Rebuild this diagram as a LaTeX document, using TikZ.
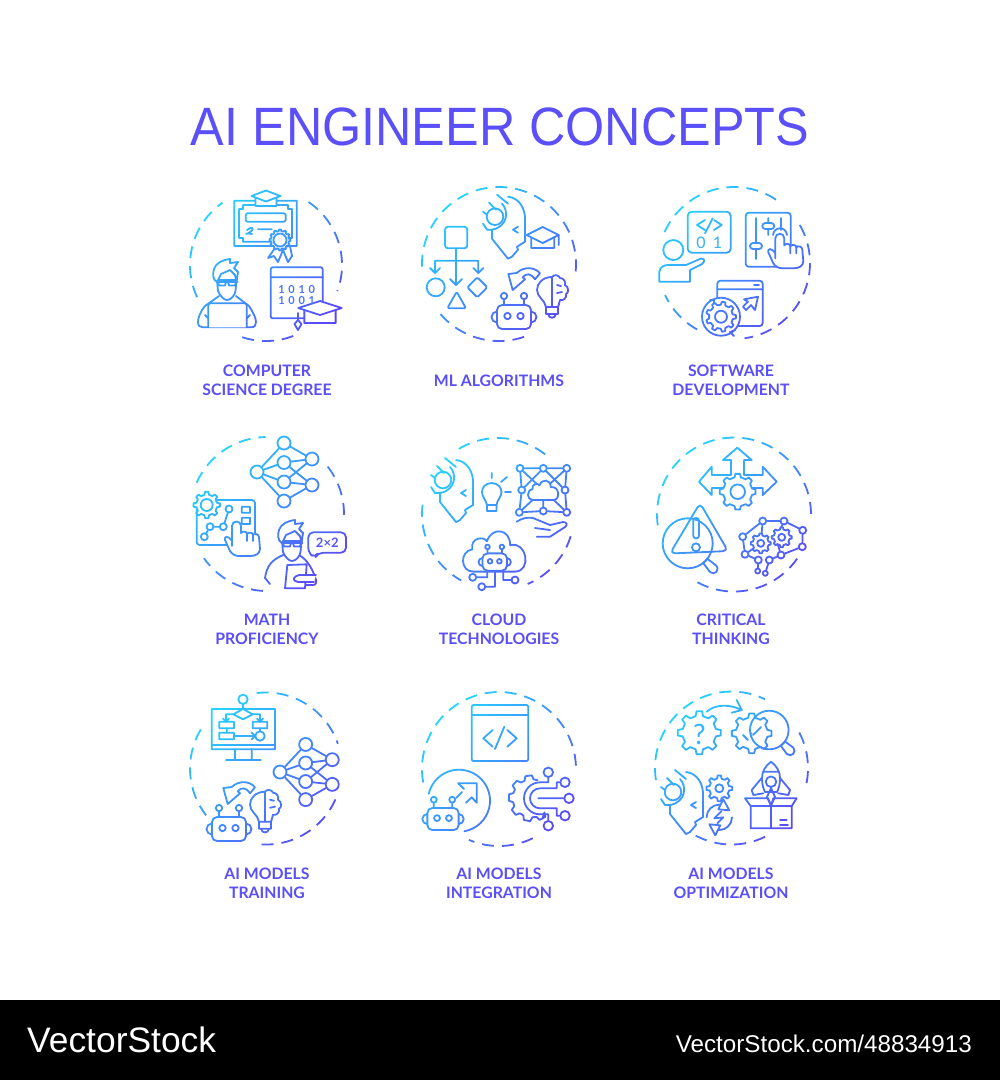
\documentclass[tikz,border=0pt]{standalone}
\usepackage{fontspec}
\setmainfont{Lato}
\newfontfamily\titlefont{Liberation Sans}
\usetikzlibrary{calc,fadings}
\definecolor{gradtop}{HTML}{22DCFF}
\definecolor{gradmid}{HTML}{3F9DFF}
\definecolor{gradend}{HTML}{5C46F8}
\definecolor{labelviolet}{HTML}{5A4FF8}
\tikzset{
	cut/.style={fill=black},
	nnode/.style={circle,draw,fill=black,minimum size=13pt,inner sep=0pt},
	cnode/.style={circle,draw,fill=black,minimum size=7pt,inner sep=0pt},
	celltitle/.style={text=labelviolet,font=\bfseries\fontsize{15.8}{19.3}\selectfont,align=center},
	icontext/.style={font=\bfseries\fontsize{11}{11}\selectfont},
}
\def\ringarc(#1)(#2:#3:#4){\draw[line cap=butt,dash pattern=on 12pt off 8pt] ($(#1)+({#4*cos(#2)},{#4*sin(#2)})$) arc (#2:#3:#4);}
\def\gearicon(#1)(#2:#3:#4:#5){
	\begin{scope}[shift={(#1)}]
		\pgfmathsetmacro\gstep{360/#4}
		\draw[cut] ({-.28*\gstep}:#3) \foreach \k in {1,...,#4} {-- ({(\k-1.16)*\gstep}:#2) -- ({(\k-.84)*\gstep}:#2) -- ({(\k-.72)*\gstep}:#3) -- ({(\k-.28)*\gstep}:#3)} -- cycle;
		\draw[cut] (0,0) circle (#5);
	\end{scope}}
\def\roboticon(#1)(#2){
	\begin{scope}[shift={(#1)},scale=#2]
		\draw[cut] (-17,0) circle (5.5);
		\draw[cut] (17,0) circle (5.5);
		\draw[cut,rounded corners=5pt] (-17,-12) rectangle (17,12);
		\draw (-10,-12) -- (-10,-18);
		\draw (10,-12) -- (10,-18);
		\draw[cut] (-10,-21) circle (3.2);
		\draw[cut] (10,-21) circle (3.2);
		\draw (-6.5,-1) circle (3.2);
		\draw (6.5,-1) circle (3.2);
	\end{scope}}
\def\headicon(#1){
	\begin{scope}[shift={(#1)}]
		\draw (0,0) circle (8.3);
		\draw (7,-13) .. controls (14,-6) and (13,10) .. (-3,13) -- (-8,13) -- (-12,7);
		\draw (13,-20) .. controls (24,-19) and (31,-8) .. (30,5) -- (30,25) -- (22,30) -- (23,33) -- (17,40) -- (13,42) -- (-3,22) -- (-3,13);
		\draw (2,-22) -- (13,-13);
		\draw (-6,-14) -- (1,-7);
		\draw (-12,-5) -- (-8,-2);
		\draw (23,10) -- (18,13) -- (23,16);
	\end{scope}}
\def\bulbicon(#1){
	\begin{scope}[shift={(#1)}]
		\draw (0,-15) .. controls (-9,-15) and (-15,-9) .. (-15,-2) .. controls (-15,5) and (-7,8) .. (-6,15) -- (6,15);
		\draw (0,-15) .. controls (2,-18) and (7,-17) .. (8,-14) .. controls (12,-14) and (14,-10) .. (13,-7) .. controls (17,-5) and (17,1) .. (14,2) .. controls (15,6) and (11,9) .. (8,8) .. controls (8,11) and (6,13) .. (6,15);
		\draw (0,-15) -- (0,15);
		\draw (-6,15) -- (-6,22) -- (6,22) -- (6,15);
		\draw (-4,22) .. controls (-3,27) and (3,27) .. (4,22);
		\draw (5,-7) -- (9,-6);
		\draw (5,1) -- (10,0);
	\end{scope}}
\def\turnarrow(#1){
	\begin{scope}[shift={(#1)}]
		\draw (-14.7,-4) -- (-6.3,-5) .. controls (1,-12) and (12,-11) .. (17,-4.7) -- (12,1.3) .. controls (8,-5) and (3,-5) .. (-.3,-.7) -- (2,1.3) -- (-10.3,12) -- cycle;
	\end{scope}}
\def\capicon(#1)(#2:#3:#4){
	\begin{scope}[shift={(#1)}]
		\draw[cut] ({-.72*#2},0) -- ({-.72*#2},#4) -- ({.72*#2},#4) -- ({.72*#2},0);
		\draw[cut] (-#2,0) -- (0,-#3) -- (#2,0) -- (0,#3) -- cycle;
	\end{scope}}
\def\faceicon(#1){
	\begin{scope}[shift={(#1)}]
		\draw[cut] (-10,0) -- (-9,11) .. controls (-7,16) and (-3,20) .. (0,20) .. controls (4,20) and (8,15) .. (8.5,11) -- (9.5,0) -- cycle;
		\draw[cut] (-10,2) .. controls (-15,0) and (-14,-8) .. (-13,-11) .. controls (-11,-17) and (-5,-20) .. (3,-21) -- (3,-17) -- (11,-18) -- (7,-12) -- (11,-8) -- (9.5,2) -- (8,-5) -- (3,-10) -- (-6,-6) -- cycle;
		\draw (-10.5,2) -- (10.5,2);
		\draw (-9,2) -- (-8,5.5) -- (-2,5.5) -- (-1,2);
		\draw (1,2) -- (2,5.5) -- (8,5.5) -- (9,2);
	\end{scope}}
\def\handicon(#1){
	\begin{scope}[shift={(#1)}]
		\draw[cut] (-4,25) -- (-4,5) .. controls (-4,-1) and (5,-1) .. (5,5) -- (5,12) .. controls (6,10) and (11,10) .. (11,13) .. controls (12,11) and (17,11) .. (17,14) .. controls (18,12) and (23,13) .. (23,16) -- (24,28) .. controls (24,33) and (19,35) .. (14,35) -- (3,35) .. controls (-1,35) and (-4,33) .. (-6,30) -- (-11,19) .. controls (-12,15) and (-8,14) .. (-4,20) -- cycle;
		\draw (11,13) -- (11,20);
		\draw (17,14) -- (17,20);
	\end{scope}}
\def\lensicon(#1)(#2:#3){
	\begin{scope}[shift={(#1)},rotate=-45]
		\draw[cut] (#2,-3) -- ({#2+#3},-4.5) arc (-90:90:4.5) -- (#2,3) -- cycle;
		\draw (0,0) circle (#2);
	\end{scope}}
\def\cloudicon(#1)(#2){
	\begin{scope}[shift={(#1)}]
		\draw[cut,scale=#2] (-.7,.6) .. controls (-1.1,.6) and (-1.15,-.05) .. (-.72,-.12) .. controls (-.8,-.5) and (-.35,-.55) .. (-.25,-.38) .. controls (-.1,-.85) and (.5,-.8) .. (.5,-.25) .. controls (1.05,-.4) and (1.2,.6) .. (.65,.6) -- cycle;
	\end{scope}}
\def\neuralnet(#1)(#2){
	\begin{scope}[shift={(#1)},scale=#2]
		\node[nnode] (input) at (0,0) {};
		\node[nnode] (hiddenA) at (27,-29) {};
		\node[nnode] (hiddenB) at (27,-9.5) {};
		\node[nnode] (hiddenC) at (27,10) {};
		\node[nnode] (hiddenD) at (27,29) {};
		\node[nnode] (outputA) at (55,-13) {};
		\node[nnode] (outputB) at (55,13) {};
		\foreach \m in {A,B,C,D} \draw (input) -- (hidden\m);
		\draw (hiddenA) -- (outputA);
		\draw (hiddenB) -- (outputA);
		\draw (hiddenB) -- (outputB);
		\draw (hiddenC) -- (outputA);
		\draw (hiddenC) -- (outputB);
		\draw (hiddenD) -- (outputB);
	\end{scope}}

\begin{tikzfadingfrompicture}[name=allicons,x=1pt,y=-1pt,color=white,line width=1.8pt,line join=round,line cap=round]
	\path (0,0) rectangle (1000,1000);
	%%%%% COMPUTER SCIENCE DEGREE %%%%%
	\ringarc(266,265)(-56:20:76);
	\ringarc(266,265)(69:110:76);
	\ringarc(266,265)(155:235:76);
	\draw (234.3,200.7) rectangle (296.7,246);
	\draw (239,209) -- (243,209) -- (243,205) -- (288,205) -- (288,209) -- (292,209) -- (292,238) -- (288,238) -- (288,241.7) -- (243,241.7) -- (243,238) -- (239,238) -- cycle;
	\draw[rounded corners=2pt] (245.7,213.3) rectangle (285.7,221.7);
	\draw (247,230) .. controls (251,226) and (256,228) .. (250,232) .. controls (245,236) and (244,232) .. (252,234);
	\draw (258,229.3) -- (271.7,229.3);
	\capicon(266,196)(14.5:5.5:10)
	\draw[cut] (275,248) -- (268,258) -- (274,256) -- (278,262) -- (283,250) -- (288,262) -- (292,256) -- (290,246) -- cycle;
	\gearicon(280,240)(10.5:9:12:6.5)
	\draw[rounded corners=2pt] (270.7,267.3) rectangle (322.7,318.3);
	\draw (270.7,277.3) -- (322.7,277.3);
	\draw (298,313) -- (298,320);
	\draw[cut] (298,320) -- (294.5,324) -- (298,330) -- (301.5,324) -- cycle;
	\capicon(320,308)(21.7:7:15)
	\draw (219,296) -- (205,306) .. controls (200,312) and (198,318) .. (198,322) .. controls (198,326) and (200,327.3) .. (203,327.3) -- (251,327.3) .. controls (255,327.3) and (256,325) .. (256,322) .. controls (256,318) and (253,312) .. (249,306) -- (236,296);
	\draw (205,315) -- (208.3,318.3);
	\draw (250,315) -- (246.7,318.3);
	\draw[cut,rounded corners=2pt] (208.3,327.3) -- (208.3,303.3) -- (246.7,303.3) -- (246.7,327.3);
	\faceicon(227,280)
	%%%%% ML ALGORITHMS %%%%%
	\ringarc(499,264)(-182:10:77);
	\ringarc(499,264)(71:145:77);
	\draw[rounded corners=3pt] (445,226.7) rectangle (467.3,248.3);
	\draw (456,248.3) -- (456,285);
	\draw (450,279) -- (456,285) -- (462,279);
	\draw (435,273) -- (435,260.7) -- (478.3,260.7) -- (478.3,273);
	\draw (430,268) -- (435,273) -- (440,268);
	\draw (473.3,268) -- (478.3,273) -- (483.3,268);
	\draw (435.7,287.3) circle (9);
	\draw[rounded corners=1.5pt] (456.7,291.7) -- (466,308.3) -- (447.3,308.3) -- cycle;
	\draw[rounded corners=1.5pt] (477.3,277.3) -- (487.3,287.3) -- (477.3,297.3) -- (467.3,287.3) -- cycle;
	\headicon(495,216.7)
	\capicon(542.7,235)(16:8:13)
	\draw (558.7,235) -- (558.7,245);
	\turnarrow(523,278)
	\roboticon(514,317)(1)
	\bulbicon(552,292)
	%%%%% SOFTWARE DEVELOPMENT %%%%%
	\ringarc(734,263)(-156:-52:76);
	\ringarc(734,263)(-30:82:76);
	\ringarc(734,263)(119:155:76);
	\draw[rounded corners=4pt] (687.7,211.7) rectangle (730.7,252.7);
	\draw (705,220) -- (697,225) -- (705,230);
	\draw (714,220) -- (721.7,225) -- (714,230);
	\draw (712.7,218.3) -- (705,233.3);
	\draw[cut] (659.3,281.7) -- (659.3,272) .. controls (660,267) and (664,265) .. (668,265) -- (686,265) -- (701,258.5) .. controls (705,258) and (705,262) .. (702,264) -- (690,270) -- (690,281.7) -- cycle;
	\draw[cut] (673.3,250) circle (10);
	\draw[rounded corners=3pt] (745.7,212.7) rectangle (790.7,266.7);
	\draw (756,218) -- (756,259);
	\draw (768.3,218) -- (768.3,235);
	\draw (781,218) -- (781,230);
	\draw[cut,rounded corners=3pt] (750,243) rectangle (762,249);
	\draw[cut,rounded corners=3pt] (762.3,223) rectangle (774.3,229);
	\draw (773,235) .. controls (774,226) and (786,226) .. (787,235);
	\handicon(779.3,233.3)
	\draw[rounded corners=3pt] (717.3,326) -- (717.3,280.7) -- (762.7,280.7) -- (762.7,326) -- cycle;
	\draw (717.3,289.3) -- (762.7,289.3);
	\draw (754,285) -- (759,285);
	\draw (758,296.7) -- (755,310) -- (751,305) -- (746,310) -- (743,306.7) -- (748,301.7) -- (744,299.3) -- cycle;
	\draw[cut] (721,316.7) circle (19);
	\draw (710,300) -- (714,300) -- (714,304);
	\draw (734,336) -- (730,332) -- (735,330);
	\gearicon(721,316.7)(15:12:9:6)
	%%%%% MATH PROFICIENCY %%%%%
	\neuralnet(257,472)(1)
	\ringarc(267,514)(-156:-91:77);
	\ringarc(267,514)(-38:5:77);
	\ringarc(267,514)(93:145:77);
	\draw[rounded corners=3pt] (196.7,500) -- (255,500) -- (255,545) -- (196.7,545) -- cycle;
	\gearicon(206.7,505)(13.3:10.5:8:6)
	\draw (241.7,506.7) rectangle (250,512.7);
	\draw (241.7,517.7) rectangle (250,524);
	\node[cnode] (plotA) at (204.3,536.7) {};
	\node[cnode] (plotB) at (210,526.7) {};
	\node[cnode] (plotC) at (223.3,526.7) {};
	\node[cnode] (plotD) at (229,509) {};
	\draw (plotA) -- (plotB);
	\draw (plotB) -- (plotC);
	\draw (plotC) -- (plotD);
	\handicon(236,521)
	\draw (265,578) .. controls (267,565) and (272,560) .. (283,555) -- (299,555) .. controls (308,560) and (313,570) .. (316,580) .. controls (317,584) and (315,585) .. (312,585) -- (295,585);
	\draw (265,578) -- (270,584);
	\draw[cut] (287.3,565) -- (306.7,564.3) -- (305,588.3) -- (285,588.3) -- cycle;
	\draw[cut,rounded corners=2pt] (316,575) -- (297,575) -- (293,579) -- (296,582) -- (314,582);
	\faceicon(292,541)
	\draw[cut,rounded corners=5pt] (308.3,532.3) -- (346,532.3) -- (346,552.7) -- (318,552.7) -- (315,558) -- (308.3,552.7) -- cycle;
	%%%%% CLOUD TECHNOLOGIES %%%%%
	\ringarc(498,514)(-121:-49:76);
	\ringarc(498,514)(-173:-241:76);
	\ringarc(498,514)(17:67:76);
	\headicon(443,480)
	\draw (491.7,483) .. controls (485,483) and (482,488) .. (482,492) .. controls (482,497) and (486,500) .. (487,505) -- (496.5,505) .. controls (497,500) and (501.5,497) .. (501.5,492) .. controls (501.5,488) and (498,483) .. (491.7,483);
	\draw (487,505) -- (487,511) -- (496.5,511) -- (496.5,505);
	\draw (491.7,473) -- (491.7,478);
	\draw (501,482) -- (507,477);
	\draw (505,492) -- (511,492);
	\node[cnode] (meshA) at (520,468.3) {};
	\node[cnode] (meshB) at (543.3,468.3) {};
	\node[cnode] (meshC) at (566.7,468.3) {};
	\node[cnode] (meshD) at (565,490) {};
	\node[cnode] (meshE) at (566.7,512.3) {};
	\node[cnode] (meshF) at (543.3,511) {};
	\node[cnode] (meshG) at (519.3,512.3) {};
	\node[cnode] (meshH) at (521.7,490) {};
	\draw (meshA) -- (meshB);
	\draw (meshB) -- (meshC);
	\draw (meshC) -- (meshD);
	\draw (meshD) -- (meshE);
	\draw (meshE) -- (meshF);
	\draw (meshF) -- (meshG);
	\draw (meshG) -- (meshH);
	\draw (meshH) -- (meshA);
	\draw (meshA) -- (543.3,490);
	\draw (meshC) -- (543.3,490);
	\draw (meshE) -- (543.3,490);
	\draw (meshG) -- (543.3,490);
	\draw (meshF) -- (543.3,490);
	\draw (meshB) -- (meshD);
	\draw (meshB) -- (meshH);
	\cloudicon(543.3,491)(15)
	\draw (516.7,521.7) .. controls (522,518) and (528,517) .. (533,518) -- (550,525) -- (563,522) .. controls (567,522) and (568,525) .. (565,527) -- (550,536.7) -- (536.7,536.7);
	\draw (535,528) -- (550,530);
	\cloudicon(494.7,553)(31)
	\roboticon(494.7,562)(.72)
	\node[cnode] (chipA) at (472.7,577.3) {};
	\node[cnode] (chipB) at (481.7,586.7) {};
	\node[cnode] (chipC) at (515,580) {};
	\draw (487.3,571) -- (487.3,577.3) -- (chipA);
	\draw (495,571) -- (495,586.7) -- (chipB);
	\draw (503.3,571) -- (503.3,580) -- (chipC);
	%%%%% CRITICAL THINKING %%%%%
	\ringarc(734,514.5)(-188:2:77);
	\ringarc(734,514.5)(35:122:77);
	\draw (737.3,447.7) -- (751.7,460) -- (744,460) -- (744,475) -- (762.7,475) -- (762.7,466.7) -- (776.7,481.7) -- (762.7,495) -- (762.7,488) -- (711.7,488) -- (711.7,495) -- (699,481.7) -- (711.7,466.7) -- (711.7,475) -- (731,475) -- (731,460) -- (723,460) -- cycle;
	\gearicon(737.7,491.7)(18:14.7:8:7.3)
	\draw[rounded corners=5pt] (700,503) -- (728,551) -- (670,553.5) -- cycle;
	\lensicon(687.7,543.3)(25:11)
	\draw[rounded corners=2.5pt] (693.3,518) rectangle (699,538.3);
	\draw (696,547.3) circle (4);
	\node[cnode] (brainA) at (762.7,521) {};
	\node[cnode] (brainB) at (784,521) {};
	\node[cnode] (brainC) at (802.7,530.3) {};
	\node[cnode] (brainD) at (802.3,546.7) {};
	\node[cnode] (brainE) at (781,555) {};
	\node[cnode] (brainF) at (769.3,560) {};
	\node[cnode] (brainG) at (758.3,560) {};
	\node[cnode] (brainH) at (745,554.3) {};
	\node[cnode] (brainI) at (742.7,536.7) {};
	\node[circle,draw,minimum size=5pt,inner sep=0pt] (brainJ) at (757.7,571) {};
	\node[circle,draw,minimum size=5pt,inner sep=0pt] (brainK) at (765.3,573.3) {};
	\draw (brainA) -- (brainB);
	\draw (brainB) -- (brainC);
	\draw (brainC) -- (brainD);
	\draw (brainD) -- (brainE);
	\draw (brainE) -- (brainF);
	\draw (brainG) -- (brainH);
	\draw (brainH) -- (brainI);
	\draw (brainI) -- (brainA);
	\draw (brainG) -- (brainJ);
	\draw (brainF) -- (brainK);
	\draw (brainA) -- (761,540);
	\draw (brainB) -- (780,530);
	\draw (brainH) -- (754,548);
	\draw (brainE) -- (778,545);
	\gearicon(760.7,543.3)(10:8:8:3.5)
	\gearicon(781.7,537.3)(10:8:8:3.5)
	%%%%% AI MODELS TRAINING %%%%%
	\ringarc(266,768.5)(-97:-19:76);
	\ringarc(266,768.5)(-149:-218:76);
	\ringarc(266,768.5)(24:97:76);
	\draw (211.7,709) rectangle (275,749.3);
	\draw (211.7,745) -- (275,745);
	\draw (235,749.3) -- (235,760);
	\draw (251.7,749.3) -- (251.7,760);
	\draw (226,760) -- (260.7,760);
	\draw[cut] (243,699.3) circle (4.7);
	\draw (243,704) -- (243,709);
	\draw[cut] (233.3,714.3) -- (243,709) -- (252.7,714.3) -- (243,719.3) -- cycle;
	\draw (233.3,714.3) -- (226,714.3) -- (226,721.7);
	\draw (223,718.5) -- (226,721.7) -- (229,718.5);
	\draw (252.7,714.3) -- (260,714.3) -- (260,721.7);
	\draw (257,718.5) -- (260,721.7) -- (263,718.5);
	\draw (219.3,721.7) rectangle (234,728.3);
	\draw (252.7,721.7) rectangle (267.3,728.3);
	\draw (219.3,732.7) rectangle (234,739.3);
	\draw (226.7,728.3) -- (226.7,732.7);
	\draw (260,728.3) -- (260,731.3);
	\draw (234,736) -- (255.3,736);
	\draw (251.5,732.5) -- (255.3,736) -- (251.5,739.5);
	\draw[cut] (260,736) circle (4.7);
	\neuralnet(280,772)(.95)
	\turnarrow(238,792)
	\roboticon(229,829)(1)
	\bulbicon(265,806.7)
	%%%%% AI MODELS INTEGRATION %%%%%
	\ringarc(499,769)(-190:1:77);
	\ringarc(499,769)(64:113:77);
	\draw[cut,rounded corners=1.5pt] (471.7,705) rectangle (528.3,761);
	\draw (471.7,715) -- (528.3,715);
	\draw (492.7,730) -- (483.3,738.3) -- (492.7,746.7);
	\draw (507.3,730) -- (516.7,738.3) -- (507.3,746.7);
	\draw (504.3,726.7) -- (495,749);
	\draw ($(459,800.7)+({31*cos(-167)},{31*sin(-167)})$) arc (-167:80:31);
	\draw (458.3,783.3) -- (476.7,783.3) -- (476.7,802.7) -- (471.7,797.3) -- (466,802.7);
	\draw (458.3,783.3) -- (464,789);
	\draw (456,798) -- (462,792);
	\roboticon(443,819)(.92)
	\begin{scope}[shift={(531.7,798.3)}]
		\draw ({62}:23) \foreach \k in {1,...,6} {-- ({42+\k*40-34}:19) -- ({42+\k*40-28}:23) -- ({42+\k*40-12}:23) -- ({42+\k*40-6}:19) -- ({42+\k*40+6}:19)};
	\end{scope}
	\node[nnode,minimum size=9.5pt] (plugA) at (548.3,772.3) {};
	\node[nnode,minimum size=9.5pt] (plugB) at (565,782.3) {};
	\node[nnode,minimum size=9.5pt] (plugC) at (569,798.3) {};
	\node[nnode,minimum size=9.5pt] (plugD) at (565,815.7) {};
	\node[nnode,minimum size=9.5pt] (plugE) at (548.3,825.7) {};
	\draw (538.3,798.3) -- (plugC);
	\draw (plugB) -- (556.7,782.3) -- (556.7,788.3) -- (540,788.3) arc (-90:-270:10) -- (556.7,808.3) -- (556.7,815.7) -- (plugD);
	\draw (plugA) -- (548.3,782.3) -- (540,782.3) arc (-90:-270:16) -- (548.3,814.3) -- (plugE);
	%%%%% AI MODELS OPTIMIZATION %%%%%
	\ringarc(731.5,768)(-189:-64:76.5);
	\ringarc(731.5,768)(-27.6:15:76.5);
	\ringarc(731.5,768)(64:118:76.5);
	\gearicon(699.3,732.7)(21.7:17:8:0)
	\draw (706.7,711.7) .. controls (715,704) and (730,704) .. (741.7,710);
	\draw (736.7,700) -- (741.7,710) -- (731.7,712.7);
	\gearicon(751.7,733.3)(20:16:8:0)
	\lensicon(769.3,730)(19.3:10)
	\draw (743,735) -- (748,740);
	\draw (753,735) -- (761,727);
	\headicon(673,792)
	\gearicon(719.3,788.3)(13:10:8:4)
	\begin{scope}[shift={(719.3,817.3)}]
		\draw (-12.7,0) arc (180:305:12.7);
		\draw (12.7,0) arc (0:125:12.7);
		\draw[cut] (4,-18) -- (10,-7) -- (-1,-8) -- cycle;
		\draw[cut] (-4,18) -- (-10,7) -- (1,8) -- cycle;
		\draw (2,-6) -- (-5,1) -- (4,0) -- (-2,6);
	\end{scope}
	\draw (771,761.7) .. controls (765,766) and (762,772) .. (762,778) .. controls (762,784) and (763,788) .. (765,792) -- (777,792) .. controls (779,788) and (780,784) .. (780,778) .. controls (780,772) and (777,766) .. (771,761.7);
	\draw (763.3,771.7) -- (778.3,771.7);
	\draw[cut] (771,781.7) circle (5.3);
	\draw (761.7,778) -- (751.7,790) -- (753.3,795) -- (763.3,793.3);
	\draw (780,778) -- (790,790) -- (788.3,795) -- (778.3,793.3);
	\draw (771,788) -- (767,797) -- (771,805) -- (775,797) -- cycle;
	\draw (750.7,806) rectangle (791.7,828.3);
	\draw (771,806) -- (771,828.3);
	\draw (745,798.3) -- (750.7,806) -- (771,806) -- (768,798.3) -- cycle;
	\draw (796.7,798.3) -- (791.7,806) -- (771,806) -- (773.3,798.3) -- cycle;
	\draw (780,820) -- (786.7,820);
	\draw (780,825) -- (788,825);
\end{tikzfadingfrompicture}

\begin{document}
\begin{tikzpicture}[x=1pt,y=-1pt]
	\useasboundingbox (0,0) rectangle (1000,1080);
	\fill[white] (0,0) rectangle (1000,1080);
	
	\node[xscale=.932,text=labelviolet,font=\titlefont\fontsize{54}{54}\selectfont] (heading) at (500,126.5) {AI ENGINEER CONCEPTS};
	
	\foreach \cx/\cy in {266/265,499/264,734/263,267/514,498/514,734/514,266/768,499/769,731/768}
		\shade[path fading=allicons,fit fading=false,fading transform={shift={(500,500)}},top color=gradtop,middle color=gradmid,bottom color=gradend,shading angle=45] (\cx-86,\cy-86) rectangle (\cx+86,\cy+86);
	
	\node[icontext,text=gradmid!55!gradend] (bitsA) at (296.7,290) {1\,\,0\,\,1\,\,0};
	\node[icontext,text=gradmid!55!gradend] (bitsB) at (296.7,301) {1\,\,0\,\,0\,\,1};
	\node[text=gradtop!30!gradmid,font=\fontsize{16}{16}\selectfont] (bitZero) at (701,243) {0};
	\node[text=gradtop!30!gradmid,font=\fontsize{16}{16}\selectfont] (bitOne) at (717.5,243) {1};
	\node[icontext,text=gradend!80!gradmid,font=\bfseries\fontsize{13}{13}\selectfont] (sum) at (327.3,542.3) {2×2};
	\node[text=gradtop!40!gradmid,font=\fontsize{28}{28}\selectfont] (query) at (699.3,734) {?};
	
	\node[celltitle] (labelA) at (267,380) {COMPUTER\\SCIENCE DEGREE};
	\node[celltitle] (labelB) at (499,380.5) {ML ALGORITHMS};
	\node[celltitle] (labelC) at (731,380) {SOFTWARE\\DEVELOPMENT};
	\node[celltitle] (labelD) at (267,629) {MATH\\PROFICIENCY};
	\node[celltitle] (labelE) at (499,629) {CLOUD\\TECHNOLOGIES};
	\node[celltitle] (labelF) at (731,629) {CRITICAL\\THINKING};
	\node[celltitle] (labelG) at (267,883) {AI MODELS\\TRAINING};
	\node[celltitle] (labelH) at (499,883) {AI MODELS\\INTEGRATION};
	\node[celltitle] (labelI) at (731,883) {AI MODELS\\OPTIMIZATION};
	
	\fill[black] (0,1000) rectangle (1000,1080);
	\node[anchor=base west,inner sep=0pt,text=white,font=\titlefont\fontsize{35.4}{35.4}\selectfont] (brand) at (27,1052) {VectorStock};
	\node[anchor=base east,inner sep=0pt,text=white,font=\titlefont\fontsize{24.2}{24.2}\selectfont] (brandurl) at (972,1052) {VectorStock.com/48834913};
\end{tikzpicture}
\end{document}
